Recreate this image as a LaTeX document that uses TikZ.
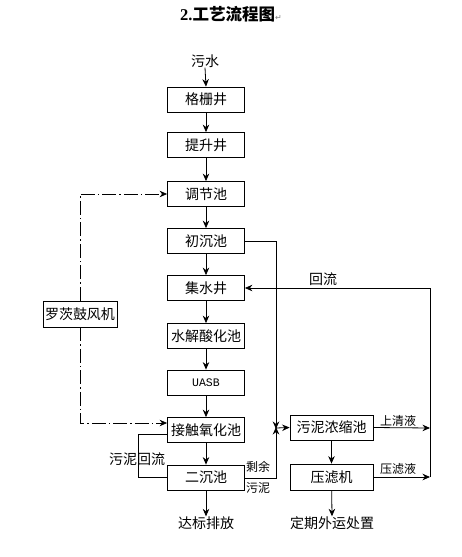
\documentclass[tikz,border=0pt]{standalone}
\usepackage{fontspec}
\setmainfont{Liberation Serif}
\newfontfamily\cjk{Noto Sans CJK SC}
\newfontfamily\symf{DejaVu Sans}
\newfontfamily\monof{Liberation Mono}
\usetikzlibrary{arrows.meta}
\begin{document}
\begin{tikzpicture}[x=1pt,y=-1pt,
  box/.style={draw, line width=0.8pt, minimum width=77pt, minimum height=25pt, inner sep=0pt, font=\cjk\fontsize{14}{14}\selectfont},
  sbox/.style={box, minimum width=83pt},
  lbl/.style={inner sep=0pt, font=\cjk\fontsize{14}{14}\selectfont},
  slbl/.style={inner sep=0pt, font=\cjk\fontsize{12}{12}\selectfont},
  arr/.style={-{Stealth[length=7.5pt,width=6.5pt]}, line width=0.8pt},
  ln/.style={line width=0.8pt},
  dd/.style={line width=0.8pt, dash pattern=on 14pt off 3pt on 1.5pt off 3pt}]
\useasboundingbox[fill=white] (0,0) rectangle (461,557);
% title
\node[anchor=west, inner sep=0pt] (title) at (180,14) {\fontsize{16.5}{16.5}\selectfont\textbf{2.}{\cjk\bfseries 工艺流程图}{\symf\color{gray}\fontsize{8}{8}\selectfont ↵}};
% main column
\node[lbl] (in) at (205,61) {污水};
\node[box] (b1) at (206,99.5) {格栅井};
\node[box] (b2) at (206,145) {提升井};
\node[box] (b3) at (206,194) {调节池};
\node[box] (b4) at (206,241) {初沉池};
\node[box] (b5) at (206,288) {集水井};
\node[box] (b6) at (206,336) {水解酸化池};
\node[box] (b7) at (206,382.5) {\monof\fontsize{11.5}{11.5}\selectfont UASB};
\node[box] (b8) at (206,430) {接触氧化池};
\node[box] (b9) at (206,477.5) {二沉池};
\node[lbl] (out1) at (206,523) {达标排放};
% blower
\node[box, minimum width=74pt, minimum height=26pt] (fan) at (80,314) {罗茨鼓风机};
% sludge line
\node[sbox] (s1) at (331.5,427.5) {污泥浓缩池};
\node[sbox, minimum height=26pt] (s2) at (331.5,477) {压滤机};
\node[lbl] (out2) at (332,523) {定期外运处置};
% labels
\node[lbl] (l1) at (323,279) {回流};
\node[slbl] (l2) at (398,421) {上清液};
\node[slbl] (l3) at (398,469) {压滤液};
\node[slbl] (l4) at (258,467) {剩余};
\node[slbl] (l5) at (258,488) {污泥};
\node[lbl] (l6) at (137,459) {污泥回流};
% coordinates
\coordinate (j) at (276,428);
\coordinate (r1) at (430,428);
\coordinate (r2) at (430,477);
% main arrows
\draw[arr] (in.south) -- (b1.north);
\draw[arr] (b1) -- (b2);
\draw[arr] (b2) -- (b3);
\draw[arr] (b3) -- (b4);
\draw[arr] (b4) -- (b5);
\draw[arr] (b5) -- (b6);
\draw[arr] (b6) -- (b7);
\draw[arr] (b7) -- (b8);
\draw[arr] (b8) -- (b9);
\draw[arr] (b9) -- (out1.north);
% blower air lines
\draw[dd, -{Stealth[length=7.5pt,width=6.5pt]}] (fan.north) -- (80,194) -- (b3.west);
\draw[dd, -{Stealth[length=7.5pt,width=6.5pt]}] (fan.south) -- (80,423) -- (b8.west |- 0,423);
% primary sludge and surplus sludge
\draw[arr] (b4.east) -- (j |- b4.east) -- ([yshift=-1pt]j);
\draw[arr] (b9.east |- 0,478) -- (276,478) -- ([yshift=1pt]j);
\draw[arr] (j) -- (s1.west);
\draw[arr] (s1) -- (s2);
\draw[arr] (s2) -- (out2.north);
% return flows
\draw[arr] (s1.east) -- (r1);
\draw[arr] (s2.east) -- (r2);
\draw[arr] (r2) -- (430,288) -- (b5.east);
% sludge return
\draw[ln] (b8.west |- 0,434) -- (138,434) -- (138,477.5) -- (b9.west);
\end{tikzpicture}
\end{document}
